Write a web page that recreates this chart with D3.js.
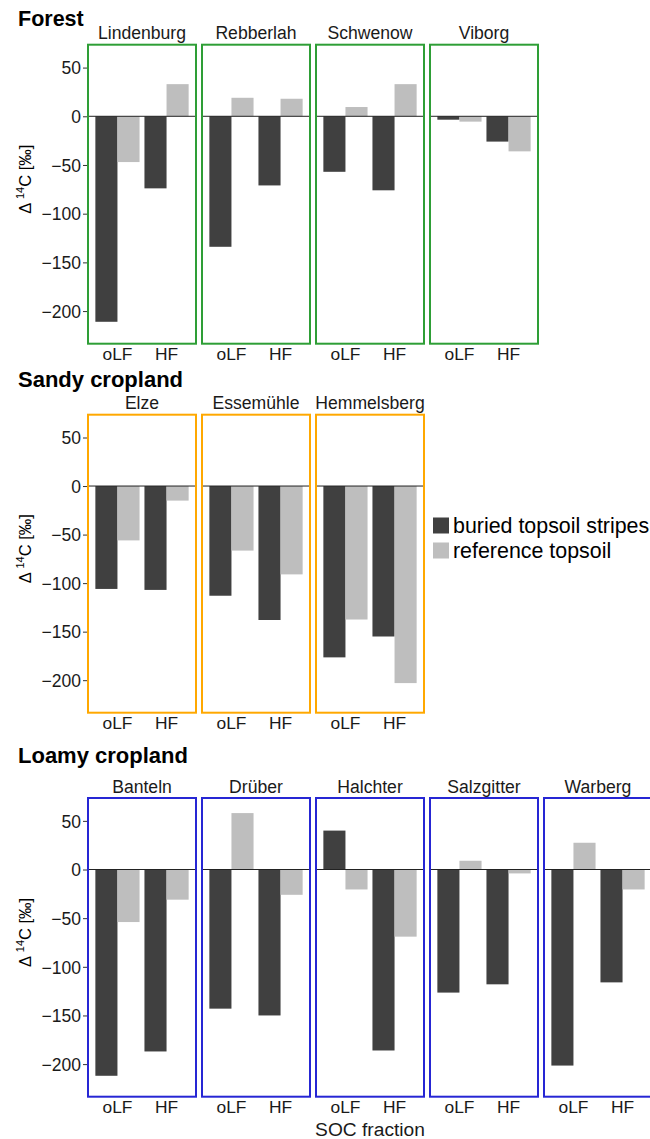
<!DOCTYPE html>
<html><head><meta charset="utf-8">
<script src="https://cdn.jsdelivr.net/npm/d3@7"></script>
<style>body{margin:0;background:#fff}svg{display:block}text{font-family:"Liberation Sans",Arial,sans-serif}</style>
</head><body>
<svg id="c" width="650" height="1139"></svg>
<script>
// ---- data ----
const fractions = ["oLF", "HF"];
const seriesNames = ["buried topsoil stripes", "reference topsoil"];
const yTicks = [50, 0, -50, -100, -150, -200];

const forestSites = ["Lindenburg", "Rebberlah", "Schwenow", "Viborg"];
const forestBuried = [[-211, -74], [-134, -71], [-57, -76], [-3.5, -26]];
const forestRef    = [[-47, 33], [19, 18], [9.5, 33], [-5.5, -36]];

const sandySites = ["Elze", "Essemühle", "Hemmelsberg"];
const sandyBuried = [[-106, -107], [-113, -138], [-176.5, -155]];
const sandyRef    = [[-56, -15], [-66.5, -91], [-137.5, -203]];

const loamySites = ["Banteln", "Drüber", "Halchter", "Salzgitter", "Warberg"];
const loamyBuried = [[-212, -187], [-143, -150], [40, -186], [-126.5, -118], [-201.5, -116]];
const loamyRef    = [[-54, -31], [58, -26], [-20.5, -69], [9, -4], [27.5, -20.5]];

const groups = [
  {title: "Forest", sites: forestSites, buried: forestBuried, ref: forestRef, color: "#2e9e36", top: 44.7, bottom: 343.7, titleY: 26, titleSize: 21.5},
  {title: "Sandy cropland", sites: sandySites, buried: sandyBuried, ref: sandyRef, color: "#ffa800", top: 414.7, bottom: 712.7, titleY: 387, titleSize: 22},
  {title: "Loamy cropland", sites: loamySites, buried: loamyBuried, ref: loamyRef, color: "#2626d4", top: 798, bottom: 1096.7, titleY: 763, titleSize: 22}
];
const seriesColors = ["#404040", "#bebebe"];

// ---- layout ----
const svg = d3.select("#c");
const panelLeft = 88, panelW = 108, panelStep = 114;
const yDomain = [-233.5, 73.5];

groups.forEach(g => {
  const y = d3.scaleLinear().domain(yDomain).range([g.bottom, g.top]);
  // ggplot-like discrete positions (expansion 0.6 units each side)
  const xc = d3.scalePoint().domain(fractions).range([panelW * 0.6 / 2.2, panelW * 1.6 / 2.2]);
  const unit = panelW / 2.2;
  const bw = unit * 0.45;

  svg.append("text").attr("x", 18).attr("y", g.titleY)
    .attr("font-size", g.titleSize).attr("font-weight", "bold").attr("fill", "#000").text(g.title);

  // y axis
  const yAxis = d3.axisLeft(y).tickValues(yTicks).tickSize(4).tickPadding(2)
    .tickFormat(d => d < 0 ? "\u2212" + Math.abs(d) : d);
  const ya = svg.append("g").attr("transform", `translate(${panelLeft - 1},0)`).call(yAxis);
  ya.select(".domain").remove();
  ya.selectAll(".tick line").attr("stroke", "#333");
  ya.selectAll(".tick text").attr("font-size", 17.5).attr("fill", "#1a1a1a")
    .attr("font-family", "Liberation Sans, Arial, sans-serif").attr("dy", "0.36em");

  // y title
  const cy = (g.top + g.bottom) / 2 - 15;
  const yt = svg.append("text").attr("transform", `translate(31,${cy}) rotate(-90)`)
    .attr("text-anchor", "middle").attr("font-size", 16.5).attr("fill", "#000");
  yt.append("tspan").text("\u0394 ");
  yt.append("tspan").attr("font-size", 11).attr("dy", -7).text("14");
  yt.append("tspan").attr("dy", 7).text("C [\u2030]");

  g.sites.forEach((site, i) => {
    const px = panelLeft + i * panelStep;
    const p = svg.append("g").attr("transform", `translate(${px},0)`);
    // strip label
    p.append("text").attr("x", panelW / 2).attr("y", g.top - 5.5).attr("text-anchor", "middle")
      .attr("font-size", 17.6).attr("fill", "#1a1a1a").text(site);
    // bars
    fractions.forEach((f, j) => {
      const vals = [g.buried[i][j], g.ref[i][j]];
      vals.forEach((v, k) => {
        const cx = xc(f);
        const x0 = cx - bw + k * bw;
        p.append("rect").attr("x", x0).attr("width", bw)
          .attr("y", Math.min(y(v), y(0))).attr("height", Math.abs(y(v) - y(0)))
          .attr("fill", seriesColors[k]);
      });
      p.append("text").attr("x", xc(f)).attr("y", g.bottom + 16.5).attr("text-anchor", "middle")
        .attr("font-size", 17.4).attr("fill", "#1a1a1a").text(f);
    });
    // zero line
    p.append("line").attr("x1", 0).attr("x2", panelW).attr("y1", y(0)).attr("y2", y(0))
      .attr("stroke", "#222").attr("stroke-width", 1);
    // frame
    p.append("rect").attr("x", 0).attr("y", g.top).attr("width", panelW).attr("height", g.bottom - g.top)
      .attr("fill", "none").attr("stroke", g.color).attr("stroke-width", 2);
  });
});

// legend
const lg = svg.append("g").attr("transform", "translate(433,517.5)");
seriesNames.forEach((s, i) => {
  lg.append("rect").attr("x", 0).attr("y", i * 25).attr("width", 16).attr("height", 16).attr("fill", seriesColors[i]);
  lg.append("text").attr("x", 20).attr("y", i * 25 + 15).attr("font-size", 21.4).attr("fill", "#000").text(s);
});

// x title
svg.append("text").attr("x", 370).attr("y", 1136).attr("text-anchor", "middle")
  .attr("font-size", 19.2).attr("fill", "#1a1a1a").text("SOC fraction");
</script>
</body></html>
